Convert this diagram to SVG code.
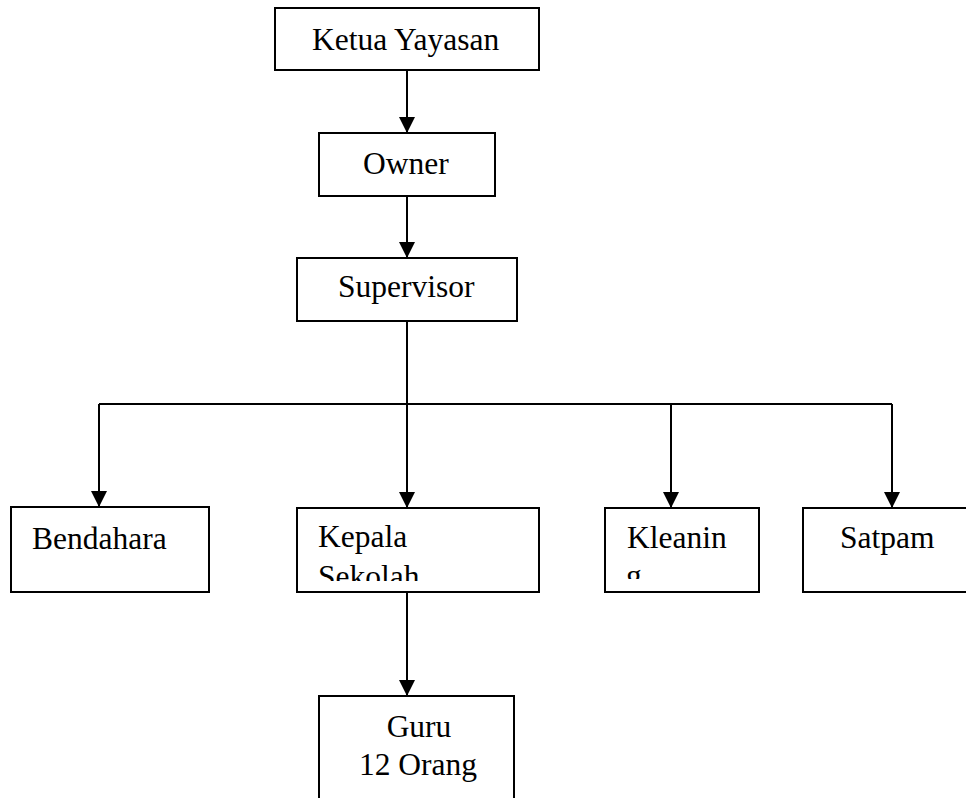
<svg xmlns="http://www.w3.org/2000/svg" width="966" height="798" viewBox="0 0 966 798">
  <style>
    .box { fill: #fff; stroke: #000; stroke-width: 2; }
    .lbl { font-family: "Liberation Serif", "Times New Roman", serif; font-size: 31.5px; fill: #000; }
    .conn { fill: none; stroke: #000; stroke-width: 2; }
  </style>
  <defs>
    <marker id="arr" markerUnits="userSpaceOnUse" markerWidth="16" markerHeight="16" refX="16" refY="8" orient="auto">
      <path d="M0,0 L16,8 L0,16 Z" fill="#000"/>
    </marker>
    <clipPath id="clipKepala"><rect x="297" y="508" width="242" height="73"/></clipPath>
    <clipPath id="clipKleanin"><rect x="605" y="508" width="154" height="71"/></clipPath>
  </defs>
  <rect width="966" height="798" fill="#fff"/>
  <g id="connectors">
    <path class="conn" d="M407,70 L407,133" marker-end="url(#arr)"/>
    <path class="conn" d="M407,196 L407,258" marker-end="url(#arr)"/>
    <path class="conn" d="M407,321 L407,404"/>
    <path class="conn" d="M99,404 L892,404"/>
    <path class="conn" d="M99,404 L99,507" marker-end="url(#arr)"/>
    <path class="conn" d="M407,404 L407,508" marker-end="url(#arr)"/>
    <path class="conn" d="M671,404 L671,508" marker-end="url(#arr)"/>
    <path class="conn" d="M892,404 L892,508" marker-end="url(#arr)"/>
    <path class="conn" d="M407,592 L407,696" marker-end="url(#arr)"/>
  </g>
  <g id="ketua">
    <rect class="box" x="275" y="8" width="264" height="62"/>
    <text class="lbl" x="312" y="50">Ketua Yayasan</text>
  </g>
  <g id="owner">
    <rect class="box" x="319" y="133" width="176" height="63"/>
    <text class="lbl" x="363" y="174">Owner</text>
  </g>
  <g id="supervisor">
    <rect class="box" x="297" y="258" width="220" height="63"/>
    <text class="lbl" x="338" y="297">Supervisor</text>
  </g>
  <g id="bendahara">
    <rect class="box" x="11" y="507" width="198" height="85"/>
    <text class="lbl" x="32" y="549">Bendahara</text>
  </g>
  <g id="kepala">
    <rect class="box" x="297" y="508" width="242" height="84"/>
    <g clip-path="url(#clipKepala)">
      <text class="lbl" x="318" y="547">Kepala</text>
      <text class="lbl" x="318" y="587">Sekolah</text>
    </g>
  </g>
  <g id="kleaning">
    <rect class="box" x="605" y="508" width="154" height="84"/>
    <g clip-path="url(#clipKleanin)">
      <text class="lbl" x="627" y="548">Kleanin</text>
      <text class="lbl" x="626" y="586">g</text>
    </g>
  </g>
  <g id="satpam">
    <rect class="box" x="803" y="508" width="170" height="84"/>
    <text class="lbl" x="840" y="548">Satpam</text>
  </g>
  <g id="guru">
    <rect class="box" x="319" y="696" width="195" height="120"/>
    <text class="lbl" x="419" y="737" text-anchor="middle">Guru</text>
    <text class="lbl" x="418" y="775" text-anchor="middle">12 Orang</text>
  </g>
</svg>
